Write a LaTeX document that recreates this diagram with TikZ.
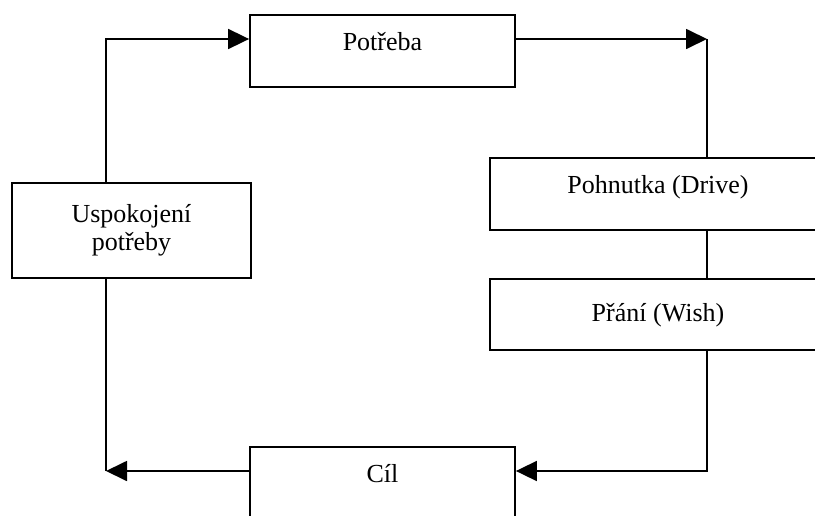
\documentclass[tikz,border=0pt]{standalone}
\usepackage{fontspec}
\setmainfont{Liberation Serif}
\usetikzlibrary{arrows.meta,calc}
\tikzset{
  >={Triangle[length=21pt,width=20pt]},
  box/.style={draw,line width=1.8pt,inner xsep=0pt,inner ysep=0pt,align=center,
    font=\fontsize{26}{28}\selectfont},
  wide/.style={box,minimum width=265pt},
  topt/.style={text height=35pt,text depth=37pt},
  link/.style={line width=1.8pt},
  arr/.style={link,->},
}
\begin{document}
\begin{tikzpicture}[x=1pt,y=-1pt]
  \useasboundingbox (0,0) rectangle (815,515);
  % boxes
  \node[wide,topt] (potreba) at (382.5,51) {Potřeba};
  \node[box,topt,minimum width=336pt] (pohnutka) at (658,194) {Pohnutka (Drive)};
  \node[box,minimum width=336pt,text height=42pt,text depth=29pt] (prani) at (658,314.5) {Přání (Wish)};
  \node[wide,topt] (cil) at (382.5,483) {Cíl};
  \node[box,minimum width=239pt,minimum height=95pt] (uspok) at (131.5,230.5) {Uspokojení\\potřeby};
  % corners of the loop
  \coordinate (tl) at (106,39);
  \coordinate (tr) at (707,39);
  \coordinate (br) at (707,471);
  \coordinate (bl) at (106,471);
  % connectors
  \draw[arr] (uspok.north -| tl) -- (tl) -- (tl -| potreba.west);
  \draw[arr] (tr -| potreba.east) -- (tr);
  \draw[link] (tr) -- (pohnutka.north -| tr);
  \draw[link] (pohnutka.south -| tr) -- (prani.north -| tr);
  \draw[arr] (prani.south -| br) -- (br) -- (br -| cil.east);
  \draw[arr] (cil.west |- bl) -- (bl);
  \draw[link] (bl) -- (uspok.south -| bl);
\end{tikzpicture}
\end{document}
